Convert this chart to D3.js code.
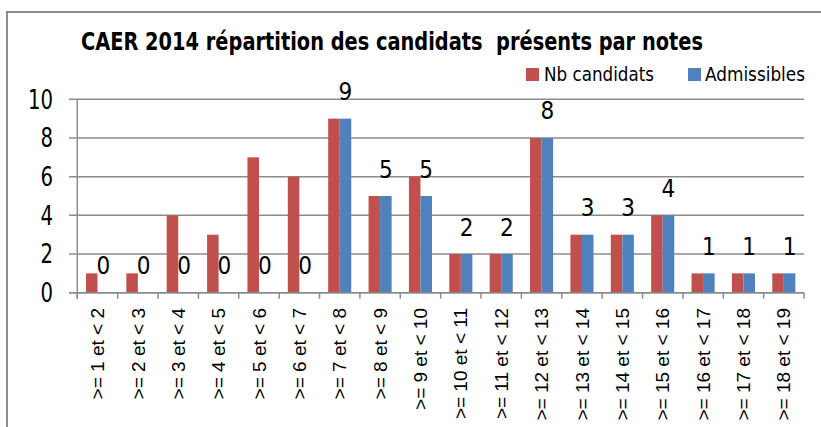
<!DOCTYPE html>
<html><head><meta charset="utf-8">
<script src="https://cdn.jsdelivr.net/npm/d3@7/dist/d3.min.js"></script>
<style>
html,body{margin:0;padding:0;background:#fff;}
svg{display:block;}
</style></head>
<body>
<svg id="chart" width="821" height="427"></svg>
<script>
const categories = [">= 1 et < 2", ">= 2 et < 3", ">= 3 et < 4", ">= 4 et < 5", ">= 5 et < 6", ">= 6 et < 7",
  ">= 7 et < 8", ">= 8 et < 9", ">= 9 et < 10", ">= 10 et < 11", ">= 11 et < 12", ">= 12 et < 13",
  ">= 13 et < 14", ">= 14 et < 15", ">= 15 et < 16", ">= 16 et < 17", ">= 17 et < 18", ">= 18 et < 19"];
const nbCandidats = [1, 1, 4, 3, 7, 6, 9, 5, 6, 2, 2, 8, 3, 3, 4, 1, 1, 1];
const admissibles = [0, 0, 0, 0, 0, 0, 9, 5, 5, 2, 2, 8, 3, 3, 4, 1, 1, 1];
const yTicks = [0, 2, 4, 6, 8, 10];
const seriesNames = ["Nb candidats", "Admissibles"];
const title = "CAER 2014 répartition des candidats  présents par notes";

const RED = "#C0504D", BLUE = "#4F81BD", GRID = "#8c8c8c";
const narrow = "'Liberation Sans Narrow','DejaVu Sans Condensed','Liberation Sans',sans-serif";
const arial = "'Liberation Sans',Arial,sans-serif";

const svg = d3.select("#chart");

// outer border (top & left visible)
svg.append("path").attr("d", "M7,427 L7,12 L821,12")
  .attr("fill", "none").attr("stroke", GRID).attr("stroke-width", 2);

const x = d3.scaleBand().domain(categories).range([77.3, 804]).padding(0);
const y = d3.scaleLinear().domain([0, 10]).range([292.7, 99.3]);
const bw = x.bandwidth() / 3.5;
const off = bw * 0.75;

// gridlines
svg.append("g").selectAll("line").data(yTicks).join("line")
  .attr("x1", 69).attr("x2", 804)
  .attr("y1", d => y(d)).attr("y2", d => y(d))
  .attr("stroke", GRID).attr("stroke-width", 1.5);

// y axis line
svg.append("line").attr("x1", 77.3).attr("x2", 77.3).attr("y1", y(10)).attr("y2", y(0) + 6)
  .attr("stroke", GRID).attr("stroke-width", 1.5);

// x ticks at category boundaries
const bounds = categories.map(c => x(c)).concat([804]);
svg.append("g").selectAll("line").data(bounds).join("line")
  .attr("x1", d => d).attr("x2", d => d).attr("y1", y(0)).attr("y2", y(0) + 6)
  .attr("stroke", GRID).attr("stroke-width", 1.5);

// bars
const g = svg.append("g");
g.selectAll("rect.nb").data(categories).join("rect").attr("class", "nb")
  .attr("x", (c) => x(c) + off).attr("width", bw)
  .attr("y", (c, i) => y(nbCandidats[i])).attr("height", (c, i) => y(0) - y(nbCandidats[i]))
  .attr("fill", RED);
g.selectAll("rect.ad").data(categories).join("rect").attr("class", "ad")
  .attr("x", (c) => x(c) + off + bw).attr("width", bw)
  .attr("y", (c, i) => y(admissibles[i])).attr("height", (c, i) => y(0) - y(admissibles[i]))
  .attr("fill", BLUE);

// x axis line on top
svg.append("line").attr("x1", 69).attr("x2", 804).attr("y1", y(0)).attr("y2", y(0))
  .attr("stroke", GRID).attr("stroke-width", 1.5);

// data labels
svg.append("g").selectAll("text").data(categories).join("text")
  .attr("x", c => x(c) + off + bw * 1.5)
  .attr("y", (c, i) => y(admissibles[i]) - 18.5)
  .attr("text-anchor", "middle")
  .attr("font-family", narrow).attr("font-size", 24).attr("fill", "#000")
  .text((c, i) => admissibles[i]);

// y tick labels
svg.append("g").selectAll("text").data(yTicks).join("text")
  .attr("x", 53).attr("y", d => y(d)).attr("dy", "0.36em")
  .attr("text-anchor", "end")
  .attr("font-family", narrow).attr("font-size", 26).attr("fill", "#000")
  .attr("textLength", d => String(d).length * 12.5).attr("lengthAdjust", "spacingAndGlyphs")
  .text(d => d);

// x labels rotated
svg.append("g").selectAll("text").data(categories).join("text")
  .attr("transform", c => `translate(${x(c) + x.bandwidth() / 2},308) rotate(-90)`)
  .attr("text-anchor", "end").attr("dy", "0.35em")
  .attr("font-family", arial).attr("font-size", 19).attr("fill", "#000")
  .text(c => c);

// title
svg.append("text").attr("x", 81).attr("y", 50)
  .attr("font-family", narrow).attr("font-weight", "bold").attr("font-size", 25)
  .attr("textLength", 622).attr("lengthAdjust", "spacingAndGlyphs")
  .attr("xml:space", "preserve").style("white-space", "pre")
  .text(title);

// legend
const leg = [{x: 526, tx: 544, tw: 110, c: RED}, {x: 688, tx: 705, tw: 100, c: BLUE}];
leg.forEach((l, i) => {
  svg.append("rect").attr("x", l.x).attr("y", 68).attr("width", 13).attr("height", 13).attr("fill", l.c);
  svg.append("text").attr("x", l.tx).attr("y", 81)
    .attr("font-family", narrow).attr("font-size", 19.5)
    .attr("textLength", l.tw).attr("lengthAdjust", "spacingAndGlyphs")
    .text(seriesNames[i]);
});
</script>
</body></html>
